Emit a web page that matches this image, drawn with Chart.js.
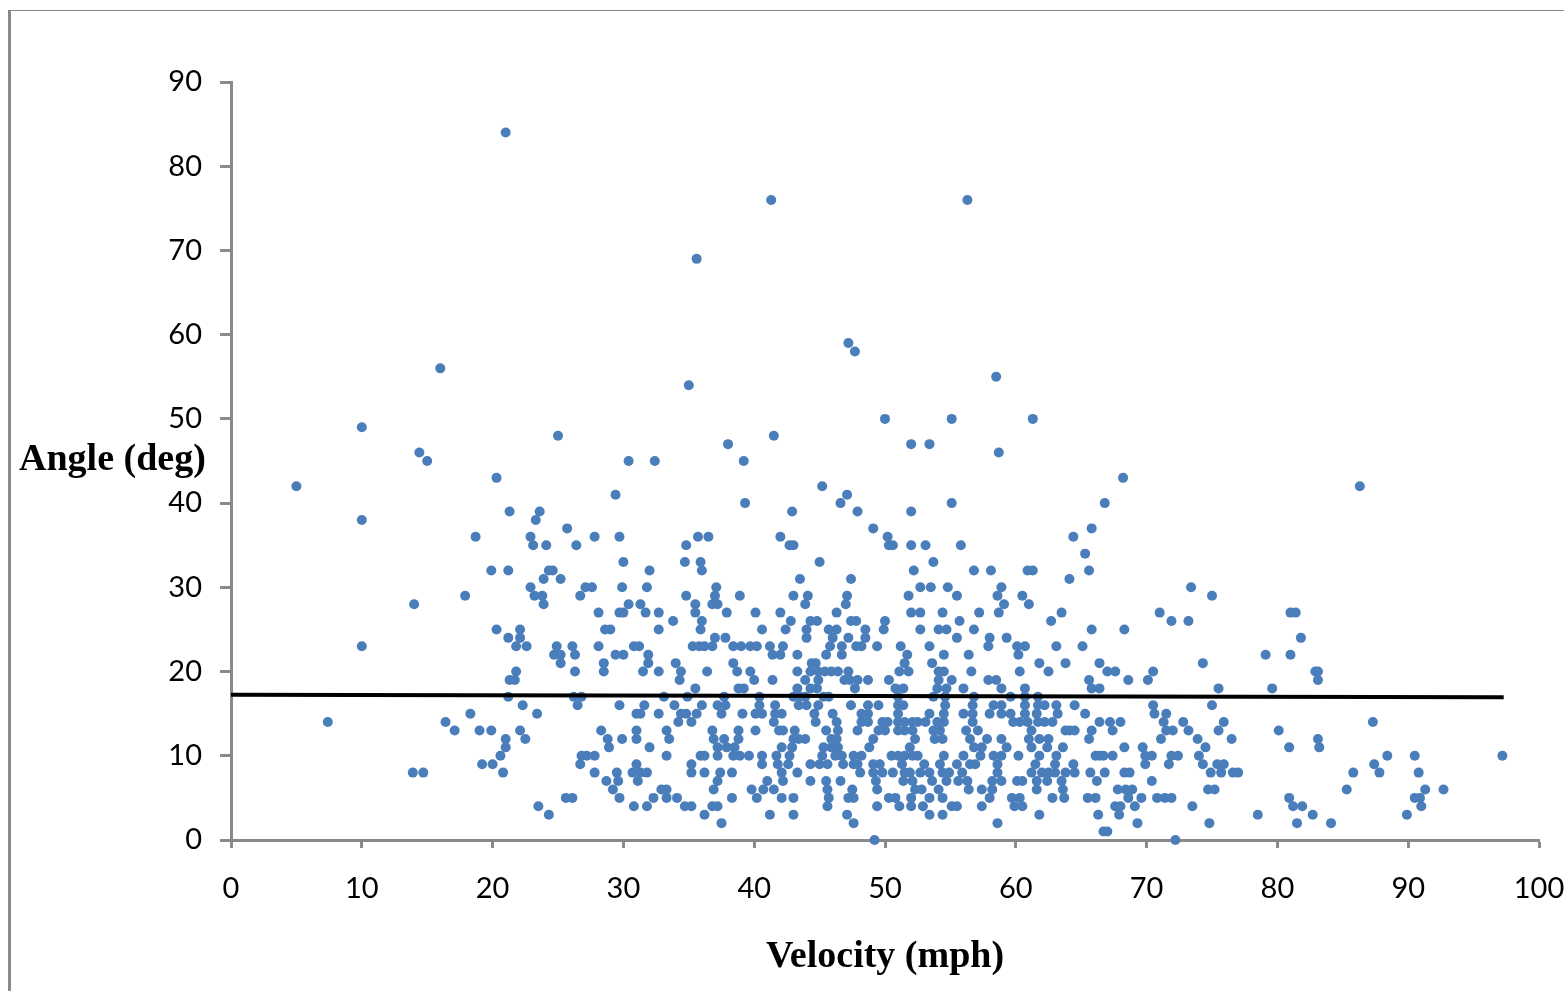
<!DOCTYPE html>
<html>
<head>
<meta charset="utf-8">
<title>Angle vs velocity</title>
<script src="https://cdn.jsdelivr.net/npm/chart.js@4/dist/chart.umd.min.js"></script>
<style>
  html, body { margin: 0; padding: 0; background: #fff; overflow: hidden; }
  #wrap { position: relative; width: 1564px; height: 991px; }
  #frame { position: absolute; left: 8px; top: 10px; right: 0; bottom: 0; border-left: 3px solid #8a8a8a; border-top: 1px solid #8a8a8a; }
  #chart { position: absolute; left: 0; top: 0; }
  #angleTitle { position: absolute; left: 19px; top: 435px; font: bold 38px "Liberation Serif", serif; color: #000; white-space: nowrap; }
</style>
</head>
<body>
<div id="wrap">
  <div id="frame"></div>
  <canvas id="chart" width="1564" height="991"></canvas>
  <div id="angleTitle">Angle (deg)</div>
</div>
<script>
// Velocities (mph), one list per angle (deg) since angles are whole numbers
const deg0 = [49.2, 72.2];
const deg1 = [66.7, 67];
const deg2 = [37.5, 47.6, 58.6, 69.3, 74.8, 81.5, 84.1];
const deg3 = [24.3, 36.2, 41.2, 43, 47.1, 53.4, 54.4, 61.8, 66.3, 67.9, 78.5, 82.7, 89.9];
const deg4 = [23.5, 30.8, 31.8, 34.7, 35.2, 36.8, 37.2, 45.6, 49.4, 51.1, 52, 52.9, 55.1, 55.5, 57.4, 59.9, 60.5, 67.6, 68, 69.1, 73.5, 81.2, 81.9, 91];
const deg5 = [25.6, 26.1, 29.7, 32.3, 33.3, 34.1, 38.3, 40.2, 42.1, 43, 45.7, 47.2, 47.6, 50.3, 50.8, 52, 53.4, 54.4, 58, 59.7, 60.3, 62.8, 63.7, 65.5, 66.1, 68.6, 69.6, 70.8, 71.4, 71.9, 80.9, 90.5, 90.9];
const deg6 = [29.2, 32.9, 33.3, 36.9, 39.8, 40.7, 41.5, 45.6, 47.5, 49.4, 52.3, 52.8, 54.1, 56.4, 57.4, 58.2, 61.6, 63.6, 67.8, 68.4, 68.9, 74.7, 75.2, 85.3, 91.3, 92.7];
const deg7 = [28.7, 29.6, 31.1, 37.2, 41, 42.2, 44.3, 45.5, 46.6, 49.3, 51.4, 52.1, 53.6, 54.7, 55.6, 56.3, 58.2, 58.9, 60.1, 60.5, 61.6, 62.4, 63.5, 66.2, 70.4];
const deg8 = [13.9, 14.7, 20.8, 27.8, 29.5, 30.7, 31.3, 31.8, 35.2, 36.2, 37.4, 38.3, 42.1, 43.3, 48.1, 49.1, 49.8, 50.6, 51.5, 51.9, 52.7, 53.4, 54.4, 54.9, 55.9, 58.6, 61.2, 62, 62.5, 63, 63.8, 64.5, 65.7, 66.8, 68.3, 68.7, 74.9, 75.7, 76.6, 77, 85.8, 87.8, 90.8];
const deg9 = [19.2, 20, 26.7, 31, 35.2, 40.6, 41.8, 42.6, 44.3, 45, 45.6, 46.8, 47.6, 47.9, 49.1, 49.6, 51.3, 53, 54.2, 55.5, 56.5, 56.9, 58.6, 61.5, 63, 64.4, 69.9, 71.7, 74.3, 75.4, 75.9, 87.4];
const deg10 = [20.6, 26.8, 27.2, 27.8, 33.3, 35.9, 36.2, 37.2, 38.4, 38.9, 39.6, 40.6, 41.7, 42.7, 45.2, 46.2, 46.7, 47.6, 48.2, 50.5, 51, 51.5, 52.1, 52.5, 54.5, 56, 57.3, 58.3, 58.9, 60.2, 61.8, 63.1, 66.1, 66.4, 66.7, 67.4, 69.9, 70.4, 71.9, 72.4, 74, 88.4, 90.5, 97.2];
const deg11 = [21, 28.9, 32, 37.2, 37.9, 38.5, 42.1, 42.9, 45.3, 45.9, 46.4, 48.8, 51.9, 56.8, 57.4, 59.3, 61.2, 62.4, 63.6, 68.3, 69.7, 74.5, 80.9, 83.2];
const deg12 = [21, 22.5, 28.8, 29.9, 31, 33.5, 36.9, 37.7, 38.8, 43, 43.4, 43.9, 45.9, 46.3, 49.1, 52.3, 53.8, 54.4, 56.5, 57.8, 58.9, 61, 61.8, 62.5, 65.6, 71.1, 73.9, 76.5, 83.1];
const deg13 = [17.1, 19, 19.9, 22.1, 28.3, 31, 33.3, 36.8, 38.8, 40.1, 41.9, 42.2, 43.1, 45.5, 46.4, 47.9, 49.5, 50, 51, 51.5, 52.1, 53.7, 54.2, 56.2, 57.1, 61.2, 63.8, 64.1, 64.5, 65.8, 67.4, 71.5, 72, 73.2, 75.5, 80.1];
const deg14 = [7.4, 16.4, 34.2, 35.2, 41.5, 44.7, 46.3, 48.2, 48.7, 49.8, 50.2, 51, 51.5, 52.1, 52.5, 53.1, 54, 54.5, 56.7, 59.8, 60.3, 60.9, 61.7, 62.2, 62.8, 66.4, 67.2, 68, 71.3, 72.8, 75.9, 87.3];
const deg15 = [18.3, 23.4, 31, 31.3, 32.7, 34.4, 34.8, 35.6, 37.5, 39.1, 40.1, 40.6, 41.6, 42.1, 44.6, 46, 48.2, 48.7, 51, 53.4, 54.5, 56, 56.7, 58, 58.9, 59.6, 60.7, 61.6, 63.2, 65.3, 70.6, 71.5];
const deg16 = [22.3, 26.5, 29.7, 31.6, 33.9, 36, 37.2, 37.8, 40.4, 41.6, 43.4, 44, 44.9, 47.4, 48.7, 49.5, 51, 51.4, 54.6, 56.7, 58.3, 58.9, 60.7, 61.7, 62.2, 63.1, 64.5, 70.5, 75];
const deg17 = [21.2, 26.2, 26.8, 33.1, 34.9, 37.7, 40.4, 43, 43.5, 43.9, 45.3, 45.7, 51, 53.7, 54.6, 56.8, 59.6, 60.7, 61.7];
const deg18 = [35.5, 38.8, 39.2, 43.3, 44.3, 44.8, 47.7, 50.8, 51.4, 54, 54.7, 56, 58.9, 60.7, 65.8, 66.4, 75.5, 79.6];
const deg19 = [21.3, 21.7, 34.3, 40, 41.4, 43.9, 44.9, 46.9, 47.3, 47.9, 48.7, 50.3, 54.1, 55.1, 57.9, 58.5, 65.6, 68.6, 70.1, 83.1];
const deg20 = [21.8, 26.3, 28.5, 31.5, 32.7, 34.4, 36.4, 38.7, 39.7, 43.3, 44.3, 44.9, 45.4, 45.9, 46.4, 47.2, 51.1, 51.8, 54.1, 54.5, 56.6, 60.3, 62.5, 67, 67.6, 70.5, 82.9, 83.1];
const deg21 = [25.2, 28.5, 31.9, 34, 38.4, 44.4, 44.7, 51.5, 53.6, 61.8, 63.8, 66.4, 74.3];
const deg22 = [24.7, 25.2, 26.3, 29.4, 30, 31.9, 41.4, 42, 43.3, 45.5, 46.7, 51.7, 54.5, 56.4, 60.2, 79.1, 81];
const deg23 = [10, 21.8, 22.6, 24.9, 26.1, 28.1, 30.8, 31.2, 35.3, 35.8, 36.2, 36.8, 38.4, 39, 39.7, 40.2, 41.2, 42.2, 45.8, 46.7, 47.8, 48.2, 49.4, 51.2, 53.4, 57.9, 60.1, 60.7, 63.1, 65.1];
const deg24 = [21.2, 22.1, 37, 37.8, 44, 46, 47.2, 48.5, 55.5, 58, 59.3, 81.8];
const deg25 = [20.3, 22.1, 28.6, 29, 32.7, 35.9, 40.6, 42.4, 44, 45.7, 46.3, 48.5, 49.9, 52.7, 54.1, 54.7, 56.8, 65.8, 68.3];
const deg26 = [33.8, 36, 42.8, 44.3, 44.8, 47.4, 47.8, 50, 55.7, 62.7, 71.9, 73.2];
const deg27 = [28.1, 29.7, 30, 31.7, 32.7, 35.5, 37.9, 40.1, 42, 46.3, 52, 52.7, 54.4, 57.2, 58.7, 63.5, 71, 81, 81.4];
const deg28 = [14, 23.9, 30.4, 31.3, 35.5, 36.8, 37.2, 43.9, 47, 59.1, 61];
const deg29 = [17.9, 23.2, 23.8, 26.7, 34.8, 37, 38.9, 43, 44.1, 47.1, 51.8, 55.5, 58.6, 60.5, 75];
const deg30 = [22.9, 27.1, 27.6, 29.9, 31.8, 37.1, 52.7, 53.5, 54.8, 58.9, 73.4];
const deg31 = [23.9, 25.2, 43.5, 47.4, 64.1];
const deg32 = [19.9, 21.2, 24.3, 24.6, 32, 36, 52.2, 56.8, 58.1, 60.9, 61.3, 65.6];
const deg33 = [30, 34.7, 35.9, 45, 53.7];
const deg34 = [65.3];
const deg35 = [23.1, 24.1, 26.4, 34.8, 42.7, 43, 50.3, 50.6, 52, 53.1, 55.8];
const deg36 = [18.7, 22.9, 27.8, 29.7, 35.7, 36.5, 42, 50.2, 64.4];
const deg37 = [25.7, 49.1, 65.8];
const deg38 = [10, 23.3];
const deg39 = [21.3, 23.6, 42.9, 47.9, 52];
const deg40 = [39.3, 46.6, 55.1, 66.8];
const deg41 = [29.4, 47.1];
const deg42 = [5, 45.2, 86.3];
const deg43 = [20.3, 68.2];
const deg45 = [15, 30.4, 32.4, 39.2];
const deg46 = [14.4, 58.7];
const deg47 = [38, 52, 53.4];
const deg48 = [25, 41.5];
const deg49 = [10];
const deg50 = [50, 55.1, 61.3];
const deg54 = [35];
const deg55 = [58.5];
const deg56 = [16];
const deg58 = [47.7];
const deg59 = [47.2];
const deg69 = [35.6];
const deg76 = [41.3, 56.3];
const deg84 = [21];

const angles = [0, 1, 2, 3, 4, 5, 6, 7, 8, 9, 10, 11, 12, 13, 14, 15, 16, 17, 18, 19, 20, 21, 22, 23, 24, 25, 26, 27, 28, 29, 30, 31, 32, 33, 34, 35, 36, 37, 38, 39, 40, 41, 42, 43, 45, 46, 47, 48, 49, 50, 54, 55, 56, 58, 59, 69, 76, 84];
const velocityRows = [deg0, deg1, deg2, deg3, deg4, deg5, deg6, deg7, deg8, deg9, deg10, deg11, deg12, deg13, deg14, deg15, deg16, deg17, deg18, deg19, deg20, deg21, deg22, deg23, deg24, deg25, deg26, deg27, deg28, deg29, deg30, deg31, deg32, deg33, deg34, deg35, deg36, deg37, deg38, deg39, deg40, deg41, deg42, deg43, deg45, deg46, deg47, deg48, deg49, deg50, deg54, deg55, deg56, deg58, deg59, deg69, deg76, deg84];

// Trend line end points
const trendVelocity = [0, 97.3];
const trendAngle = [17.25, 16.95];

const points = [];
velocityRows.forEach((row, i) => {
  row.forEach((v) => points.push({ x: v, y: angles[i] }));
});

const axisGrey = '#8a8a8a';
const tickFont = { family: 'Lato', size: 29 };

new Chart(document.getElementById('chart').getContext('2d'), {
  type: 'scatter',
  data: {
    datasets: [
      {
        label: 'Trend',
        data: trendVelocity.map((v, i) => ({ x: v, y: trendAngle[i] })),
        showLine: true,
        borderColor: '#000',
        borderWidth: 4,
        pointRadius: 0,
        order: 0,
      },
      {
        label: 'Angle',
        data: points,
        backgroundColor: '#4a7ebb',
        borderWidth: 0,
        pointRadius: 5,
        clip: false,
        order: 1,
      },
    ],
  },
  options: {
    responsive: false,
    animation: false,
    layout: { padding: { top: 82, right: 25, left: 0, bottom: 0 } },
    plugins: { legend: { display: false }, title: { display: false }, tooltip: { enabled: false } },
    scales: {
      x: {
        type: 'linear',
        min: 0,
        max: 100,
        border: { color: axisGrey, width: 3 },
        grid: { drawOnChartArea: false, color: axisGrey, tickLength: 8, tickWidth: 3 },
        ticks: { stepSize: 10, color: '#000', font: tickFont, padding: 23, maxRotation: 0 },
        title: {
          display: true,
          text: 'Velocity (mph)',
          color: '#000',
          font: { family: 'Liberation Serif', size: 38, weight: 'bold' },
          padding: { top: 0, bottom: 11 },
        },
        afterFit(scale) {
          scale.height = 151;
          scale.paddingRight = 0;
        },
      },
      y: {
        type: 'linear',
        min: 0,
        max: 90,
        border: { color: axisGrey, width: 3 },
        grid: { drawOnChartArea: false, color: axisGrey, tickLength: 11, tickWidth: 3 },
        ticks: { stepSize: 10, color: '#000', font: tickFont, padding: 18 },
        afterFit(scale) {
          scale.width = 231;
          scale.paddingTop = 0;
          scale.paddingBottom = 0;
        },
      },
    },
  },
});
</script>
</body>
</html>
